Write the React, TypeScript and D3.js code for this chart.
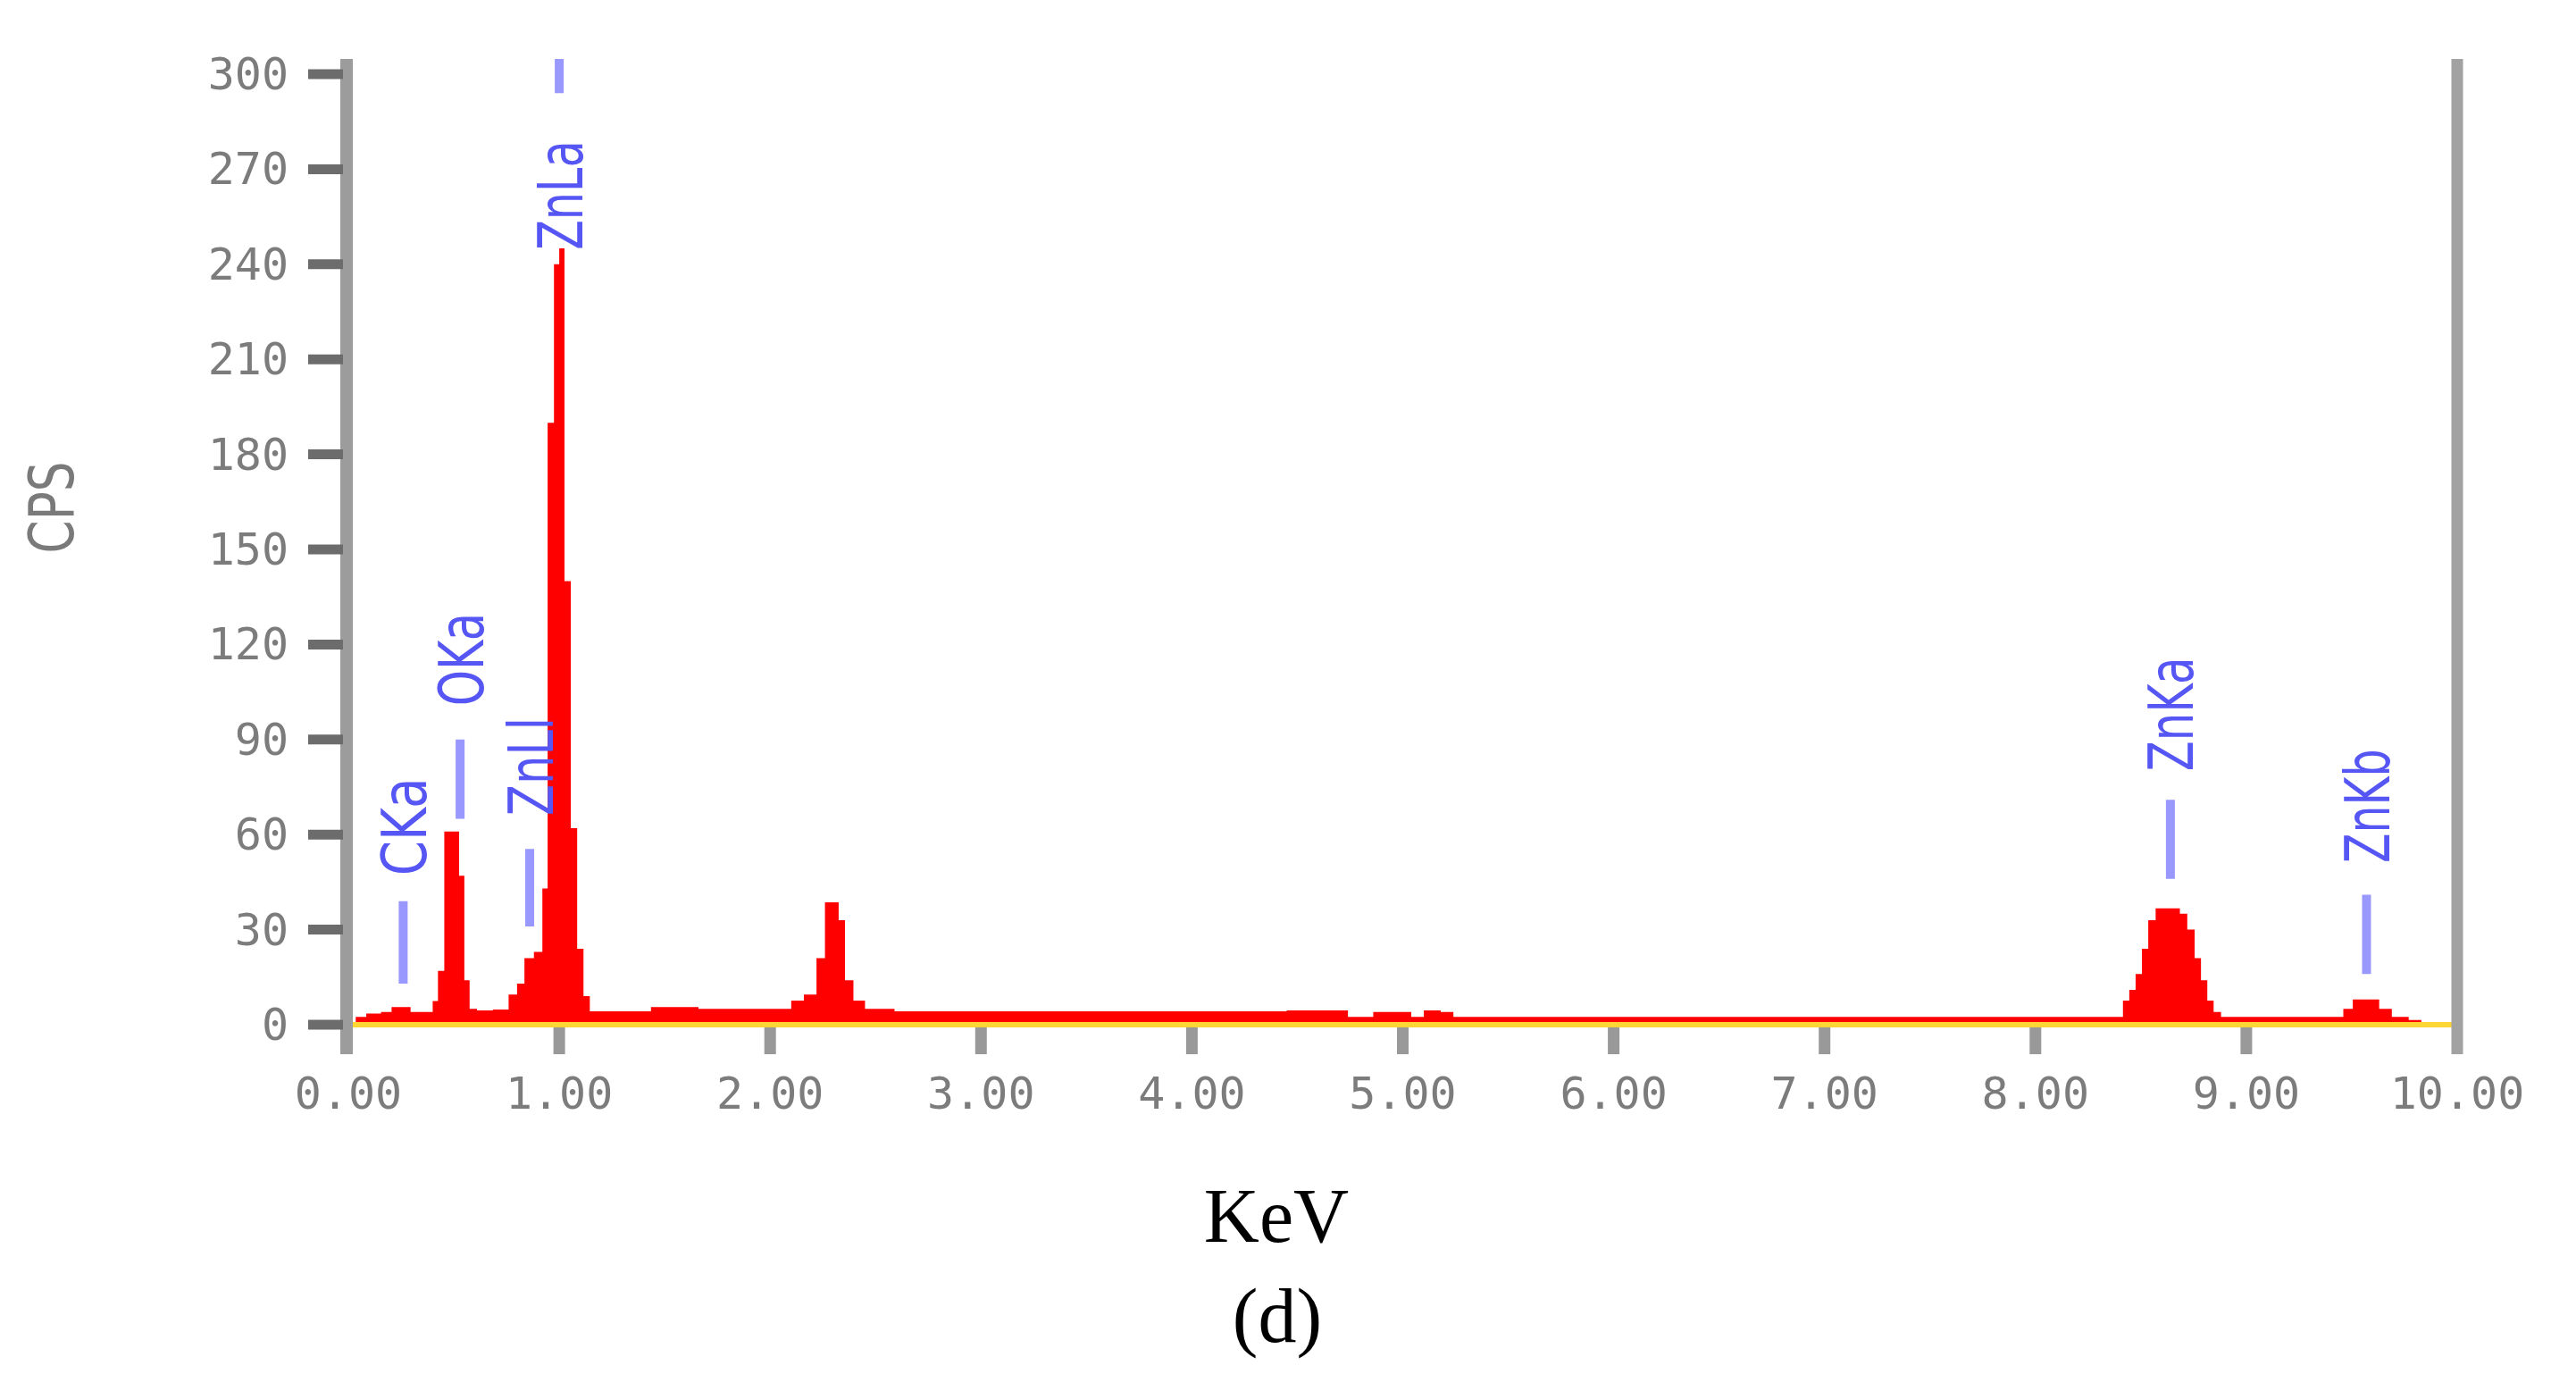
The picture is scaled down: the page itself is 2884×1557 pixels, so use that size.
import React from "react";
import * as d3 from "d3";

// Spectrum (keV, CPS)
const specKeV = [
  0.02, 0.05, 0.12, 0.19, 0.22, 0.28, 0.31, 0.39, 0.41, 0.44, 0.47, 0.51, 0.54, 0.56, 0.59,
  0.63, 0.74, 0.78, 0.82, 0.85, 0.91, 0.93, 0.96, 0.99, 1.01, 1.04, 1.07, 1.1, 1.13, 1.16,
  1.4, 1.47, 1.62, 1.7, 2.08, 2.12, 2.2, 2.24, 2.28, 2.31, 2.34, 2.37, 2.42, 2.48, 2.7,
  4.4, 4.5, 4.72, 4.76, 4.96, 5.02, 5.06, 5.14, 5.22, 5.26,
  8.4, 8.43, 8.46, 8.49, 8.52, 8.55, 8.59, 8.67, 8.7, 8.74, 8.77, 8.8, 8.83, 8.86, 8.9,
  9.44, 9.48, 9.53, 9.6, 9.66, 9.72, 9.82, 9.84,
];
const specCps = [
  0, 2.5, 3.5, 4, 5.6, 5.6, 4, 4, 7.5, 17, 61, 61, 47, 14, 5,
  4.5, 4.8, 9.5, 13, 21, 23, 43, 190, 240, 245, 140, 62, 24, 9, 4.2,
  4.2, 5.6, 5.6, 5, 5, 7.6, 9.5, 21, 38.6, 38.6, 33, 14, 7.6, 5, 4.2,
  4.2, 4.5, 4.5, 2.5, 4, 4, 2.5, 4.5, 4, 2.5,
  2.5, 7.6, 11, 16, 24, 33, 36.7, 36.7, 35, 30, 21, 14, 7.6, 4, 2.5,
  2.5, 5, 8, 8, 5, 2.5, 1.5, 0,
];

// Axis ticks
const yTickValues = [0, 30, 60, 90, 120, 150, 180, 210, 240, 270, 300];
const yTickLabels = ["0", "30", "60", "90", "120", "150", "180", "210", "240", "270", "300"];
const xTickValues = [0, 1, 2, 3, 4, 5, 6, 7, 8, 9, 10];
const xTickLabels = ["0.00", "1.00", "2.00", "3.00", "4.00", "5.00", "6.00", "7.00", "8.00", "9.00", "10.00"];

// Peak annotations (energy in keV, levels in CPS)
const peakNames = ["CKa", "OKa", "ZnLl", "ZnLa", "ZnKa", "ZnKb"];
const peakKeV = [0.26, 0.53, 0.86, 1.0, 8.64, 9.57];
const peakTextBottom = [47, 100.6, 66, 244.5, 80, 51];
const peakTextTop = [78, 130, 97, 279, 116, 87];
const peakMarkTop = [39, 90, 55.5, 305, 71, 41];
const peakMarkBottom = [13, 65, 31, 294, 46, 16];

const W = 2884;
const H = 1557;

export default function App() {
  const x = d3.scaleLinear().domain([0, 10]).range([390, 2751]);
  const y = d3.scaleLinear().domain([0, 300]).range([1147, 83]);

  const data = specKeV.map((k, i) => [k, specCps[i]] as [number, number]);
  const area = d3
    .area<[number, number]>()
    .x((d) => x(d[0]))
    .y0(y(0))
    .y1((d) => y(d[1]))
    .curve(d3.curveStep);

  const axisTop = 66;
  const axisBottom = 1180;
  const monoFont = "'DejaVu Sans Mono', monospace";
  const labelFont = "'DejaVu Sans', sans-serif";
  const capH = 0.73 * 70;

  return (
    <svg
      width={W}
      height={H}
      viewBox={`0 0 ${W} ${H}`}
      style={{ position: "absolute", left: 0, top: 0, display: "block", background: "#fff" }}
    >
      <rect x={0} y={0} width={W} height={H} fill="#ffffff" />

      {/* spectrum */}
      <path d={area(data) || ""} fill="#ff0000" />
      {/* zero line */}
      <line x1={x(0)} x2={x(10)} y1={y(0)} y2={y(0)} stroke="#ffd634" strokeWidth={6} />

      {/* left axis */}
      <line x1={388} x2={388} y1={axisTop} y2={axisBottom} stroke="#9c9c9c" strokeWidth={14} />
      {/* right frame */}
      <line x1={x(10)} x2={x(10)} y1={axisTop} y2={axisBottom} stroke="#a2a2a2" strokeWidth={13} />

      {yTickValues.map((v, i) => (
        <g key={"yt" + i}>
          <line x1={345} x2={384} y1={y(v)} y2={y(v)} stroke="#6c6c6c" strokeWidth={11} />
          <text
            x={323}
            y={y(v)}
            textAnchor="end"
            dominantBaseline="central"
            fontFamily={monoFont}
            fontSize={50}
            fill="#7c7c7c"
          >
            {yTickLabels[i]}
          </text>
        </g>
      ))}

      {xTickValues.map((v, i) => (
        <g key={"xt" + i}>
          {i > 0 && i < xTickValues.length - 1 && (
            <line x1={x(v)} x2={x(v)} y1={y(0) + 3} y2={axisBottom} stroke="#999999" strokeWidth={13} />
          )}
          <text
            x={x(v)}
            y={1224}
            textAnchor="middle"
            dominantBaseline="central"
            fontFamily={monoFont}
            fontSize={50}
            fill="#7c7c7c"
          >
            {xTickLabels[i]}
          </text>
        </g>
      ))}

      {/* peak labels */}
      {peakNames.map((name, i) => {
        const cx = x(peakKeV[i]);
        const yb = y(peakTextBottom[i]);
        const yt = y(peakTextTop[i]);
        const mt = Math.max(y(peakMarkTop[i]), axisTop);
        const mb = y(peakMarkBottom[i]);
        return (
          <g key={"pk" + i}>
            <line x1={cx} x2={cx} y1={mt} y2={mb} stroke="#9898ff" strokeWidth={10} />
            <text
              transform={`translate(${cx + capH / 2},${yb}) rotate(-90)`}
              fontFamily={labelFont}
              fontSize={70}
              fill="#5656f4"
              textLength={yb - yt}
              lengthAdjust="spacingAndGlyphs"
            >
              {name}
            </text>
          </g>
        );
      })}

      {/* CPS axis title */}
      <text
        transform={`translate(${56 + capH / 2},568) rotate(-90)`}
        textAnchor="middle"
        fontFamily={labelFont}
        fontSize={70}
        fill="#7a7a7a"
        textLength={103}
        lengthAdjust="spacingAndGlyphs"
      >
        CPS
      </text>

      {/* KeV title and panel letter */}
      <text
        x={1429}
        y={1390}
        textAnchor="middle"
        fontFamily="'Liberation Serif', 'Times New Roman', serif"
        fontSize={86}
        fill="#000"
      >
        KeV
      </text>
      <text
        x={1430}
        y={1502}
        textAnchor="middle"
        fontFamily="'Liberation Serif', 'Times New Roman', serif"
        fontSize={86}
        fill="#000"
      >
        (d)
      </text>
    </svg>
  );
}
